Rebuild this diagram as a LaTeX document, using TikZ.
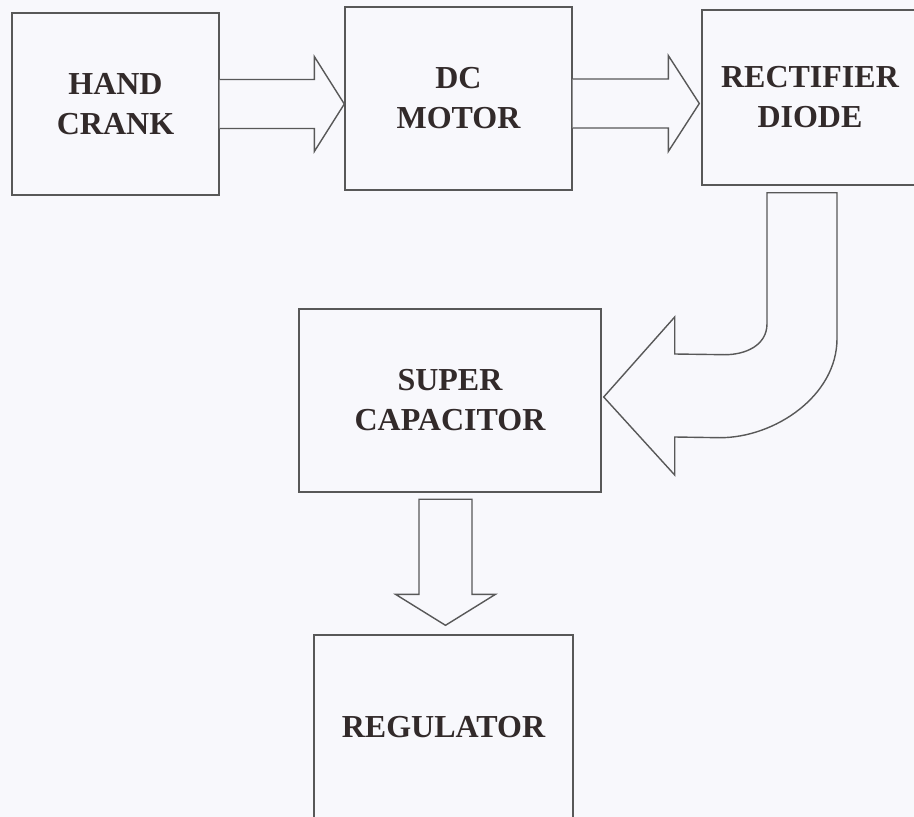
\documentclass[tikz,border=0pt]{standalone}
\usepackage{fontspec}
\setmainfont{Liberation Serif}
\usetikzlibrary{calc}
\definecolor{bgc}{RGB}{248,248,252}
\definecolor{linec}{RGB}{88,88,88}
\definecolor{textc}{RGB}{50,42,42}
\tikzset{
  blockbox/.style={draw=linec, line width=1.4pt, rectangle, inner sep=0pt, align=center,
    text=textc, font=\fontsize{32}{40}\selectfont\bfseries},
  fatarrow/.style={draw=linec, line width=1.4pt, fill=bgc, line join=miter}
}
\begin{document}
\begin{tikzpicture}[x=1pt,y=-1pt]
\fill[bgc] (0,0) rectangle (914,817);
\useasboundingbox (0,0) rectangle (914,817);

\node[blockbox, minimum width=207pt, minimum height=182pt] (hand) at (115.5,104) {HAND\\CRANK};
\node[blockbox, minimum width=227pt, minimum height=183pt] (dc) at (458.5,98.5) {DC\\MOTOR};
\node[blockbox, minimum width=216pt, minimum height=175pt] (rect) at (810,97.5) {RECTIFIER\\DIODE};
\node[blockbox, minimum width=302pt, minimum height=183pt] (super) at (450,400.5) {SUPER\\CAPACITOR};
\node[blockbox, minimum width=259pt, minimum height=184pt] (reg) at (443.5,727) {REGULATOR};

% arrow hand -> dc
\coordinate (a1s) at (hand.east);
\coordinate (a1t) at (hand.east -| dc.west);
\draw[fatarrow] ($(a1s)+(0,-24.5)$) -- ($(a1t)+(-30,-24.5)$) -- ($(a1t)+(-30,-47.5)$) -- (a1t)
  -- ($(a1t)+(-30,47.5)$) -- ($(a1t)+(-30,24.5)$) -- ($(a1s)+(0,24.5)$);

% arrow dc -> rect
\coordinate (a2s) at ($(dc.east)+(0,5)$);
\coordinate (a2t) at ($(a2s -| rect.west)+(-2,0)$);
\draw[fatarrow] ($(a2s)+(0,-24.5)$) -- ($(a2t)+(-31,-24.5)$) -- ($(a2t)+(-31,-48)$) -- (a2t)
  -- ($(a2t)+(-31,48)$) -- ($(a2t)+(-31,24.5)$) -- ($(a2s)+(0,24.5)$);

% curved arrow rect -> super
\coordinate (ctop) at ($(rect.south)+(-8,7)$);
\coordinate (ctip) at ($(super.east)+(2,-3.5)$);
\draw[fatarrow] ($(ctop)+(-35,0)$) -- ($(ctop)+(35,0)$) -- ($(ctop)+(35,146)$)
  .. controls ($(ctop)+(35,203)$) and ($(ctop)+(-27,245)$) .. ($(ctop)+(-82,245)$)
  -- ($(ctip)+(71,40)$) -- ($(ctip)+(71,78)$) -- (ctip) -- ($(ctip)+(71,-80)$)
  -- ($(ctip)+(71,-43)$) -- ($(ctop)+(-77,162)$)
  .. controls ($(ctop)+(-57,162)$) and ($(ctop)+(-35,153)$) .. ($(ctop)+(-35,131)$)
  -- cycle;

% arrow super -> reg
\coordinate (d0) at ($(super.south)+(-4.5,6.5)$);
\coordinate (d1) at ($(reg.north -| d0)+(0,-9)$);
\draw[fatarrow] ($(d0)+(-26.5,0)$) -- ($(d0)+(26.5,0)$) -- ($(d1)+(26.5,-31)$) -- ($(d1)+(50,-31)$)
  -- (d1) -- ($(d1)+(-50,-31)$) -- ($(d1)+(-26.5,-31)$) -- cycle;
\end{tikzpicture}
\end{document}
